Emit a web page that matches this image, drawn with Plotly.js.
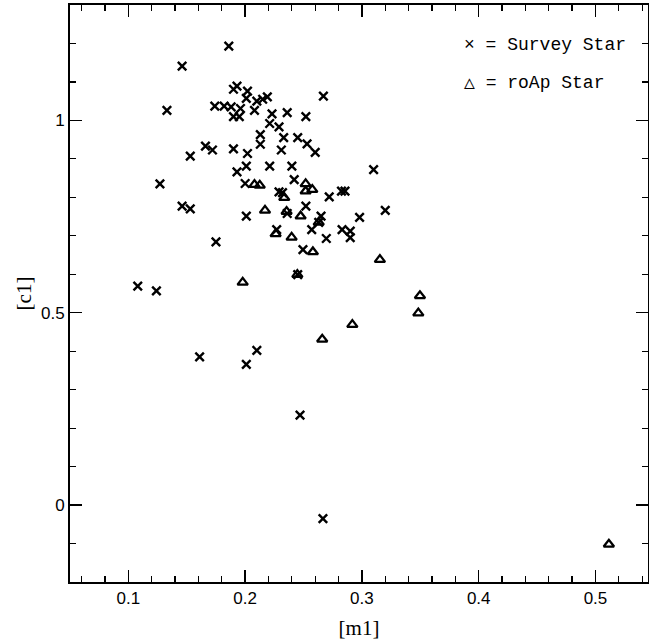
<!DOCTYPE html>
<html>
<head>
<meta charset="utf-8">
<script src="https://cdn.plot.ly/plotly-3.0.1.min.js"></script>
<style>html,body{margin:0;padding:0;background:#fff;}</style>
</head>
<body>
<div id="chart" style="width:649px;height:642px;"></div>
<script>
// Survey stars ([m1], [c1])
var surveyM1 = [0.186,0.146,0.133,0.190,0.193,0.202,0.201,0.210,0.215,0.219,
  0.174,0.182,0.188,0.196,0.208,0.190,0.195,0.223,0.236,0.252,
  0.267,0.221,0.229,0.213,0.213,0.233,0.245,0.253,0.260,0.231,
  0.166,0.172,0.190,0.202,0.153,0.221,0.240,0.201,0.193,0.242,
  0.200,0.127,0.229,0.232,0.272,0.2825,0.2855,0.146,0.153,0.201,
  0.252,0.265,0.263,0.298,0.227,0.257,0.2695,0.283,0.290,0.290,
  0.2495,0.175,0.245,0.108,0.124,0.161,0.201,0.210,0.247,0.2666,
  0.310,0.320,0.236];
var surveyC1 = [1.193,1.141,1.026,1.081,1.089,1.076,1.057,1.050,1.055,1.061,
  1.037,1.037,1.035,1.031,1.026,1.010,1.010,1.017,1.020,1.010,
  1.063,0.992,0.983,0.963,0.938,0.955,0.955,0.939,0.917,0.923,
  0.933,0.923,0.926,0.914,0.907,0.881,0.881,0.881,0.866,0.846,
  0.836,0.835,0.814,0.812,0.801,0.816,0.816,0.777,0.770,0.751,
  0.777,0.751,0.735,0.748,0.716,0.716,0.693,0.716,0.712,0.695,
  0.664,0.684,0.599,0.569,0.557,0.385,0.366,0.402,0.234,-0.035,
  0.872,0.766,0.758];
// roAp stars ([m1], [c1])
var roapM1 = [0.208,0.2125,0.2518,0.2518,0.2575,0.2335,0.217,0.2355,0.2475,0.263,
  0.2261,0.2398,0.258,0.2447,0.1979,0.3154,0.3497,0.3483,0.2918,0.266,0.5115];
var roapC1 = [0.833,0.831,0.835,0.816,0.820,0.799,0.766,0.763,0.751,0.735,
  0.705,0.696,0.658,0.599,0.579,0.638,0.544,0.499,0.469,0.431,-0.102];

var legendTexts = ['\u00d7 = Survey Star', '\u25b3 = roAp Star'];
var xTitle = '[m1]';
var yTitle = '[c1]';

var traces = [
  {x: surveyM1, y: surveyC1, mode: 'markers', type: 'scatter', name: 'Survey Star',
   marker: {symbol: 'x-thin', size: 8.5, color: 'black', line: {color: 'black', width: 2.4}}},
  {x: roapM1, y: roapC1, mode: 'markers', type: 'scatter', name: 'roAp Star',
   marker: {symbol: 'triangle-up-open', size: 9, color: 'black', line: {color: 'black', width: 2.3}}}
];

function axisBase() {
  return {
    showgrid: false, zeroline: false, showline: true, linecolor: 'black', linewidth: 2,
    ticks: 'inside', ticklen: 12, tickwidth: 1.5, tickcolor: 'black', mirror: 'allticks',
    tickfont: {family: 'Liberation Sans, Arial, sans-serif', size: 17, color: 'black'}
  };
}
var xa = axisBase();
Object.assign(xa, {range: [0.05, 0.545], tick0: 0, dtick: 0.1,
  minor: {dtick: 0.02, ticks: 'inside', ticklen: 6, tickwidth: 1.2, tickcolor: 'black'},
  title: {text: xTitle, font: {family: 'Liberation Serif, serif', size: 21, color: 'black'}, standoff: 13}});
var ya = axisBase();
Object.assign(ya, {range: [-0.2, 1.3], tick0: 0, dtick: 0.5,
  minor: {dtick: 0.1, ticks: 'inside', ticklen: 6, tickwidth: 1.2, tickcolor: 'black'},
  title: {text: yTitle, font: {family: 'Liberation Serif, serif', size: 21, color: 'black'}, standoff: 4}});

var layout = {
  width: 649, height: 642,
  margin: {l: 70, r: 1, t: 5, b: 60},
  paper_bgcolor: 'white', plot_bgcolor: 'white',
  showlegend: false,
  xaxis: xa, yaxis: ya,
  annotations: [
    {xref: 'paper', yref: 'paper', x: 0.678, y: 0.931, xanchor: 'left', yanchor: 'middle', showarrow: false,
     text: legendTexts[0], font: {family: 'Liberation Mono, monospace', size: 18, color: 'black'}},
    {xref: 'paper', yref: 'paper', x: 0.678, y: 0.864, xanchor: 'left', yanchor: 'middle', showarrow: false,
     text: legendTexts[1], font: {family: 'Liberation Mono, monospace', size: 18, color: 'black'}}
  ]
};
Plotly.newPlot('chart', traces, layout, {staticPlot: true, displayModeBar: false});
</script>
</body>
</html>
